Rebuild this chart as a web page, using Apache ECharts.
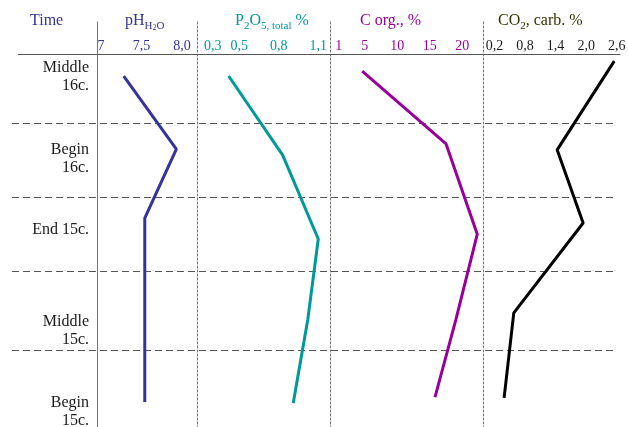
<!DOCTYPE html>
<html>
<head>
<meta charset="utf-8">
<script src="https://cdn.jsdelivr.net/npm/echarts@6/dist/echarts.min.js"></script>
<style>html,body{margin:0;padding:0;background:#fff}#c{width:628px;height:427px}</style>
</head>
<body>
<div id="c"></div>
<script>
// ---- data ----
var timeLabels = ['Middle\n16c.', 'Begin\n16c.', 'End 15c.', 'Middle\n15c.', 'Begin\n15c.'];
var timeLabelDepth = [6.2, 28.2, 47.2, 74.3, 96.0];
var periodBounds = [18.5, 38.3, 58.2, 79.4];

var phTicks = [7, 7.5, 8.0];
var phTickLabels = ['7', '7,5', '8,0'];
var phValues = [7.28, 7.93, 7.54, 7.54];
var phDepth = [5.9, 25.5, 44.0, 93.3];

var p2o5Ticks = [0.3, 0.5, 0.8, 1.1];
var p2o5TickLabels = ['0,3', '0,5', '0,8', '1,1'];
var p2o5Values = [0.42, 0.83, 1.10, 1.02, 0.91];
var p2o5Depth = [5.9, 27.1, 49.6, 71.3, 93.6];

var corgTicks = [1, 5, 10, 15, 20];
var corgTickLabels = ['1', '5', '10', '15', '20'];
var corgValues = [4.6, 17.5, 22.3, 19.0, 15.8];
var corgDepth = [4.6, 24.1, 48.3, 71.3, 92.0];

var co2Ticks = [0.2, 0.8, 1.4, 2.0, 2.6];
var co2TickLabels = ['0,2', '0,8', '1,4', '2,0', '2,6'];
var co2Values = [2.55, 1.43, 1.94, 0.58, 0.39];
var co2Depth = [1.9, 25.7, 45.3, 69.4, 92.2];

// ---- helpers ----
var FONT = 'Liberation Serif';
function pairs(xs, ys) { return xs.map(function (v, i) { return [v, ys[i]]; }); }
function lookup(vals, labels) {
  return function (v) {
    var best = 0, d = Infinity;
    for (var i = 0; i < vals.length; i++) { var dd = Math.abs(vals[i] - v); if (dd < d) { d = dd; best = i; } }
    return labels[best];
  };
}
var Y_MIN = -8.58, Y_MAX = 100;

function panelX(gi, min, max, ticks, labels, color) {
  return {
    type: 'value', gridIndex: gi, position: 'top', offset: -32, min: min, max: max,
    axisLine: { show: true, onZero: false, lineStyle: { color: '#555', width: 1 } },
    axisTick: { show: false }, splitLine: { show: false },
    axisLabel: { show: true, customValues: ticks, formatter: lookup(ticks, labels), color: color,
      fontSize: 14, fontFamily: FONT, margin: 1, hideOverlap: false }
  };
}
function panelY(gi, lineType, showLabels) {
  var y = {
    type: 'value', gridIndex: gi, inverse: true, min: Y_MIN, max: Y_MAX,
    axisLine: { show: true, onZero: false, lineStyle: { color: '#777', width: 1, type: lineType } },
    axisTick: { show: false }, splitLine: { show: false },
    axisLabel: { show: false }
  };
  if (showLabels) {
    y.axisLabel = { show: true, customValues: timeLabelDepth, formatter: lookup(timeLabelDepth, timeLabels),
      color: '#1a1a1a', fontSize: 16, fontFamily: FONT, lineHeight: 18, margin: 8, align: 'right',
      showMinLabel: true, showMaxLabel: true, hideOverlap: false };
  }
  return y;
}
function lineSeries(idx, vals, depth, color) {
  return { type: 'line', xAxisIndex: idx, yAxisIndex: idx, data: pairs(vals, depth), symbol: 'none',
    showSymbol: false, lineStyle: { color: color, width: 3 }, silent: true, z: 5 };
}

function rich(color) {
  return {
    m: { color: color, fontSize: 16, fontFamily: FONT, fontWeight: 'normal', lineHeight: 22 },
    s: { color: color, fontSize: 11, fontFamily: FONT, fontWeight: 'normal', lineHeight: 11, verticalAlign: 'bottom' },
    ss: { color: color, fontSize: 8, fontFamily: FONT, fontWeight: 'normal', lineHeight: 8, verticalAlign: 'bottom' }
  };
}
function ttl(left, text, color) {
  return { left: left, top: 10, padding: 0, text: text,
    textStyle: { fontWeight: 'normal', fontFamily: FONT, rich: rich(color) } };
}

var cPH = '#333399', cP = '#009999', cC = '#990099', cCO = '#000000';

var boundLines = periodBounds.map(function (b) {
  return [{ coord: [0, b] }, { coord: [99, b] }];
});

var option = {
  animation: false,
  backgroundColor: '#fff',
  title: [
    ttl(30, '{m|Time}', cPH),
    ttl(125, '{m|pH}{s|H}{ss|2}{s|O}', cPH),
    ttl(235, '{m|P}{s|2}{m|O}{s|5, total}{m| %}', cP),
    ttl(360, '{m|C org., %}', cC),
    ttl(498, '{m|CO}{s|2}{m|, carb. %}', '#333300')
  ],
  grid: [
    { left: 12, right: 8, top: 22, bottom: 0, outerBoundsMode: 'none' },
    { left: 97, width: 100, top: 22, bottom: 0, outerBoundsMode: 'none' },
    { left: 197, width: 133, top: 22, bottom: 0, outerBoundsMode: 'none' },
    { left: 330, width: 153, top: 22, bottom: 0, outerBoundsMode: 'none' },
    { left: 483, width: 137, top: 22, bottom: 0, outerBoundsMode: 'none' }
  ],
  xAxis: [
    { type: 'value', gridIndex: 0, min: 0, max: 100, show: false },
    panelX(1, 6.95, 8.185, phTicks, phTickLabels, cPH),
    panelX(2, 0.180, 1.189, p2o5Ticks, p2o5TickLabels, cP),
    panelX(3, -0.35, 23.18, corgTicks, corgTickLabels, cC),
    panelX(4, -0.024, 2.663, co2Ticks, co2TickLabels, '#1a1a1a')
  ],
  yAxis: [
    { type: 'value', gridIndex: 0, inverse: true, min: Y_MIN, max: Y_MAX, show: false },
    panelY(1, 'solid', true),
    panelY(2, [2, 2], false),
    panelY(3, [2, 2], false),
    panelY(4, [2, 2], false)
  ],
  series: [
    { type: 'line', xAxisIndex: 0, yAxisIndex: 0, data: [], silent: true,
      markLine: { silent: true, symbol: ['none', 'none'], label: { show: false },
        lineStyle: { color: '#555', width: 1, type: [7, 4] },
        data: boundLines.concat([[{ coord: [1, 0], lineStyle: { type: 'solid', color: '#555' } }, { coord: [100, 0] }]]) } },
    lineSeries(1, phValues, phDepth, cPH),
    lineSeries(2, p2o5Values, p2o5Depth, cP),
    lineSeries(3, corgValues, corgDepth, cC),
    lineSeries(4, co2Values, co2Depth, cCO)
  ]
};
echarts.init(document.getElementById('c'), null, { renderer: 'canvas' }).setOption(option);
</script>
</body>
</html>
